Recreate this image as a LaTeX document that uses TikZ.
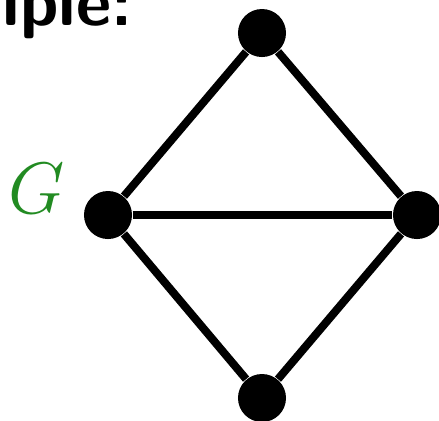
\documentclass[tikz,border=0pt]{standalone}
\usepackage{amsmath,amssymb}
\usepackage{tikz}
\usepackage{xcolor}
\definecolor{ink}{HTML}{000000}
\definecolor{labelgreen}{HTML}{228B22}
\tikzset{
  vertex/.style={circle,fill=ink,draw=none,inner sep=0pt,minimum size=0.48cm},
  edgeline/.style={draw=ink,line width=0.08cm},
  graphlabel/.style={inner sep=0pt,text=labelgreen,font=\fontsize{20}{24}\selectfont},
  headtext/.style={inner sep=0pt,anchor=base west,font=\fontsize{19.5}{24}\selectfont\sffamily\bfseries}
}

\begin{document}
\begin{tikzpicture}[x=0.01cm,y=-0.01cm]
  \useasboundingbox (0,0) rectangle (439,420);
  \clip (0,0) rectangle (439,420);
  \node[headtext] (head) at (2,25) {iple:};

  \node[vertex] (top) at (262,33) {};
  \node[vertex] (left) at (108,215) {};
  \node[vertex] (right) at (417,215) {};
  \node[vertex] (bottom) at (262,398) {};
  \node[graphlabel] (glabel) at (37,189) {$G$};

  \draw[edgeline] (left) -- (top); \draw[edgeline] (top) -- (right);
  \draw[edgeline] (left) -- (right);
  \draw[edgeline] (left) -- (bottom); \draw[edgeline] (bottom) -- (right);
\end{tikzpicture}
\end{document}
